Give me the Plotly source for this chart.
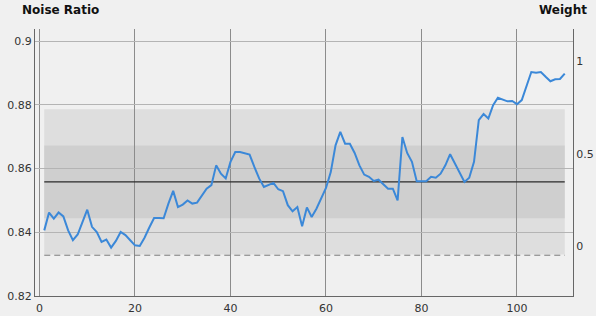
import plotly.graph_objects as go

x_values = list(range(1, 111))
noise_ratio = [
    0.8406, 0.8462, 0.8443, 0.8462, 0.8450, 0.8406, 0.8375, 0.8393, 0.8432, 0.8471,
    0.8417, 0.8401, 0.8370, 0.8377, 0.8352, 0.8373, 0.8401, 0.8391, 0.8375, 0.8359,
    0.8357, 0.8383, 0.8415, 0.8445, 0.8445, 0.8444, 0.8490, 0.8530, 0.8479, 0.8487,
    0.8500, 0.8490, 0.8493, 0.8516, 0.8537, 0.8548, 0.8610, 0.8584, 0.8569, 0.8621,
    0.8652, 0.8652, 0.8647, 0.8644, 0.8605, 0.8569, 0.8542, 0.8548, 0.8555, 0.8535,
    0.8529, 0.8485, 0.8466, 0.8479, 0.8419, 0.8478, 0.8448, 0.8474, 0.8506, 0.8539,
    0.8589, 0.8673, 0.8715, 0.8678, 0.8678, 0.8649, 0.8610, 0.8581, 0.8574, 0.8561,
    0.8565, 0.8551, 0.8537, 0.8537, 0.8500, 0.8699, 0.8649, 0.8621, 0.8560, 0.8560,
    0.8560, 0.8574, 0.8571, 0.8584, 0.8610, 0.8645, 0.8616, 0.8589, 0.8558, 0.8571,
    0.8621, 0.8752, 0.8771, 0.8757, 0.8799, 0.8822, 0.8817, 0.8811, 0.8812, 0.8802,
    0.8815, 0.8856, 0.8903, 0.8901, 0.8903, 0.8888, 0.8874, 0.8880, 0.8881, 0.8898,
]

mean_value = 0.8558
sigma = 0.0114
lower_limit = 0.8328

x_ticks = [0, 20, 40, 60, 80, 100]
y_ticks = [0.82, 0.84, 0.86, 0.88, 0.9]
y_tick_labels = ["0.82", "0.84", "0.86", "0.88", "0.9"]
y2_ticks = [0, 0.5, 1]
y2_tick_labels = ["0", "0.5", "1"]

x0, x1 = x_values[0], x_values[-1]

fig = go.Figure()

# bands
fig.add_shape(type="rect", xref="x", yref="y", x0=x0, x1=x1,
              y0=mean_value - 2 * sigma, y1=mean_value + 2 * sigma,
              fillcolor="#dedede", line_width=0, layer="below")
fig.add_shape(type="rect", xref="x", yref="y", x0=x0, x1=x1,
              y0=mean_value - sigma, y1=mean_value + sigma,
              fillcolor="#cfcfcf", line_width=0, layer="below")

fig.add_trace(go.Scatter(x=[x0, x1], y=[lower_limit, lower_limit], mode="lines",
                         line=dict(color="#7a7a7a", width=1, dash="6px,4px"),
                         hoverinfo="skip", showlegend=False))
fig.add_trace(go.Scatter(x=[x0, x1], y=[mean_value, mean_value], mode="lines",
                         line=dict(color="#2a2a2a", width=1.2),
                         hoverinfo="skip", showlegend=False))
fig.add_trace(go.Scatter(x=x_values, y=noise_ratio, mode="lines",
                         line=dict(color="#3b88d8", width=2),
                         showlegend=False))
# invisible trace to activate right axis
fig.add_trace(go.Scatter(x=[x0], y=[0], yaxis="y2", mode="markers",
                         marker=dict(opacity=0), hoverinfo="skip", showlegend=False))

tick_font = dict(family="DejaVu Sans", size=11, color="#333333")

fig.update_layout(
    width=596, height=316,
    margin=dict(l=35, r=23, t=29, b=20, autoexpand=False),
    paper_bgcolor="#f0f0f0", plot_bgcolor="#f0f0f0",
    showlegend=False,
    xaxis=dict(range=[-0.94, 111.73], tickvals=x_ticks, ticktext=[str(v) for v in x_ticks],
               showgrid=True, gridcolor="#8c8c8c", gridwidth=1, zeroline=False,
               showline=True, linecolor="#666666", linewidth=1, automargin=False,
               ticks="", tickfont=tick_font, ticklabelstandoff=2),
    yaxis=dict(range=[0.82, 0.9038], tickvals=y_ticks, ticktext=y_tick_labels,
               showgrid=True, gridcolor="#b4b4b4", gridwidth=1, zeroline=False,
               showline=True, linecolor="#666666", linewidth=1, automargin=False,
               ticks="", tickfont=tick_font),
    yaxis2=dict(range=[-0.271, 1.177], tickvals=y2_ticks, ticktext=y2_tick_labels,
                overlaying="y", side="right", showgrid=False, zeroline=False,
                showline=True, linecolor="#666666", linewidth=1, automargin=False,
                ticks="", tickfont=tick_font),
    annotations=[
        dict(text="<b>Noise Ratio</b>", xref="paper", yref="paper", x=-15 / 538, y=1 + 19 / 267,
             xanchor="left", yanchor="middle", showarrow=False,
             font=dict(family="DejaVu Sans", size=12, color="#111111")),
        dict(text="<b>Weight</b>", xref="paper", yref="paper", x=1 + 16 / 538, y=1 + 19 / 267,
             xanchor="right", yanchor="middle", showarrow=False,
             font=dict(family="DejaVu Sans", size=12, color="#111111")),
    ],
)

fig.write_html("out.html")
